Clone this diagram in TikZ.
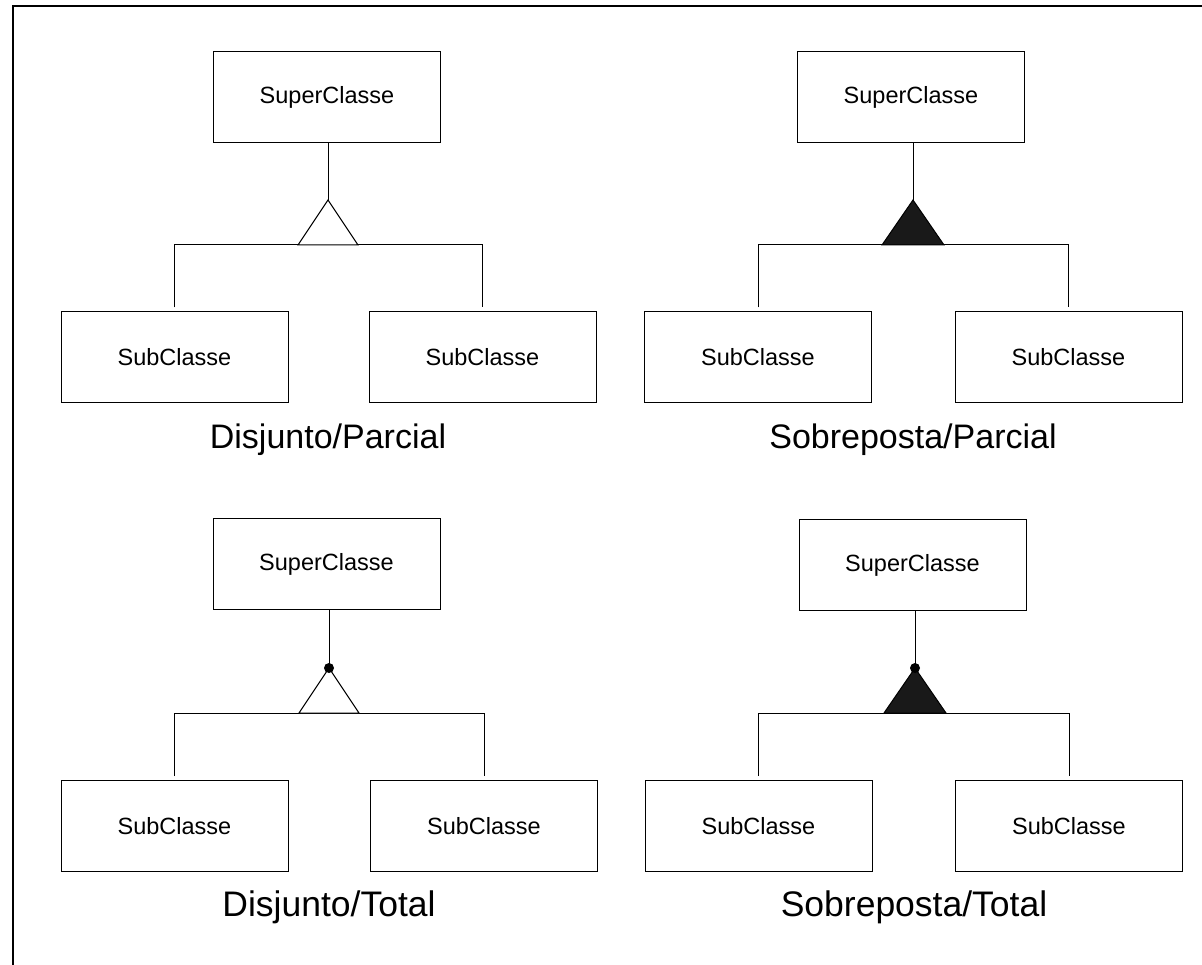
\documentclass[tikz,border=0pt]{standalone}
\usepackage{fontspec}
\setmainfont{Liberation Sans}
\begin{document}
\begin{tikzpicture}[x=1pt,y=-1pt,
  classbox/.style={draw, line width=1pt, minimum width=227pt, minimum height=91pt,
    inner sep=0pt, font=\fontsize{23.5}{28}\selectfont},
  link/.style={draw, line width=1pt},
  opentri/.style={draw, line width=1pt, fill=white, line join=miter},
  solidtri/.style={draw, line width=1pt, fill=black!90, line join=miter},
  totaldot/.style={fill=black},
  caption/.style={font=\fontsize{34}{40}\selectfont, inner sep=0pt, anchor=base},
  bigcaption/.style={font=\fontsize{35.5}{42}\selectfont, inner sep=0pt, anchor=base}
]
\useasboundingbox (0,0) rectangle (1202,965);
% frame (top and left edges)
\draw[line width=1.5pt] (1202,6) -- (13,6) -- (13,965);

% ---------------- Disjunto / Parcial ----------------
\node[classbox] (dpSup)  at (327,97.5)  {SuperClasse};
\node[classbox] (dpSubA) at (174.5,357.5) {SubClasse};
\node[classbox] (dpSubB) at (482.5,357.5) {SubClasse};
\coordinate (dpTip) at (328,200);
\coordinate (dpBL)  at (298,245);
\coordinate (dpBR)  at (358,245);
\draw[link] (dpSup.south -| dpTip) -- (dpTip);
\draw[link] ([yshift=4pt]dpSubA.north) -- (dpSubA.north |- dpBL)
  -- (dpSubB.north |- dpBL) -- ([yshift=4pt]dpSubB.north);
\draw[opentri] (dpTip) -- (dpBL) -- (dpBR) -- cycle;
\node[caption] (dpCap) at (328,448) {Disjunto/Parcial};

% ---------------- Sobreposta / Parcial ----------------
\node[classbox] (spSup)  at (911,97)  {SuperClasse};
\node[classbox] (spSubA) at (758,357.5) {SubClasse};
\node[classbox] (spSubB) at (1068.5,357.5) {SubClasse};
\coordinate (spTip) at (913,200);
\coordinate (spBL)  at (882,245);
\coordinate (spBR)  at (944,245);
\draw[link] (spSup.south -| spTip) -- (spTip);
\draw[link] ([yshift=4pt]spSubA.north) -- (spSubA.north |- spBL)
  -- (spSubB.north |- spBL) -- ([yshift=4pt]spSubB.north);
\draw[solidtri] (spTip) -- (spBL) -- (spBR) -- cycle;
\node[caption] (spCap) at (913,448) {Sobreposta/Parcial};

% ---------------- Disjunto / Total ----------------
\node[classbox] (dtSup)  at (326.5,564) {SuperClasse};
\node[classbox] (dtSubA) at (174.5,826) {SubClasse};
\node[classbox] (dtSubB) at (484,826) {SubClasse};
\coordinate (dtTip) at (329,668);
\coordinate (dtBL)  at (299,713);
\coordinate (dtBR)  at (359,713);
\draw[link] (dtSup.south -| dtTip) -- (dtTip);
\draw[link] ([yshift=4pt]dtSubA.north) -- (dtSubA.north |- dtBL)
  -- (dtSubB.north |- dtBL) -- ([yshift=4pt]dtSubB.north);
\draw[opentri] (dtTip) -- (dtBL) -- (dtBR) -- cycle;
\fill[totaldot] (dtTip) circle (5pt);
\node[bigcaption] (dtCap) at (329,916) {Disjunto/Total};

% ---------------- Sobreposta / Total ----------------
\node[classbox] (stSup)  at (912.5,565) {SuperClasse};
\node[classbox] (stSubA) at (758.5,826) {SubClasse};
\node[classbox] (stSubB) at (1069,826) {SubClasse};
\coordinate (stTip) at (915,668);
\coordinate (stBL)  at (884,713);
\coordinate (stBR)  at (946,713);
\draw[link] (stSup.south -| stTip) -- (stTip);
\draw[link] ([yshift=4pt]stSubA.north) -- (stSubA.north |- stBL)
  -- (stSubB.north |- stBL) -- ([yshift=4pt]stSubB.north);
\draw[solidtri] (stTip) -- (stBL) -- (stBR) -- cycle;
\fill[totaldot] (stTip) circle (5pt);
\node[bigcaption] (stCap) at (914,916) {Sobreposta/Total};
\end{tikzpicture}
\end{document}
